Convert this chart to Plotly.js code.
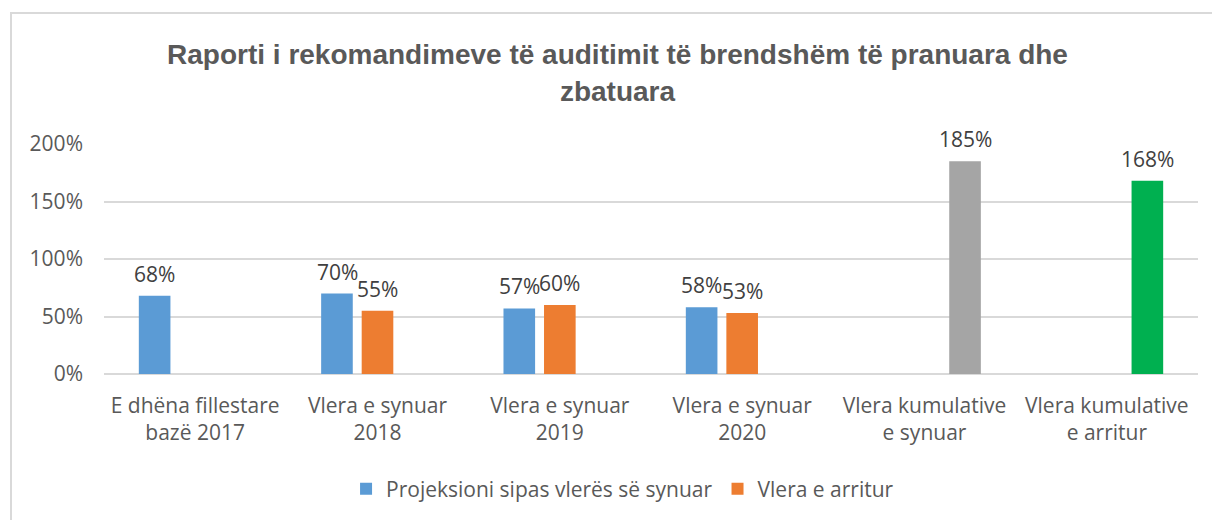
<!DOCTYPE html>
<html>
<head>
<meta charset="utf-8">
<script src="https://cdn.plot.ly/plotly-3.0.1.min.js"></script>
<style>
  html, body { margin: 0; padding: 0; background: #fff; }
  #wrap { position: relative; width: 1212px; height: 520px; overflow: hidden; }
  #chart { width: 1212px; height: 520px; }
  #frame { position: absolute; left: 10px; top: 12px; width: 1220px; height: 540px;
           border-top: 2px solid #d9d9d9; border-left: 2px solid #d9d9d9; pointer-events: none; }
</style>
</head>
<body>
<div id="wrap">
  <div id="chart"></div>
  <div id="frame"></div>
</div>
<script>
const categories = [
  "E dhëna fillestare<br>bazë 2017",
  "Vlera e synuar<br>2018",
  "Vlera e synuar<br>2019",
  "Vlera e synuar<br>2020",
  "Vlera kumulative<br>e synuar",
  "Vlera kumulative<br>e arritur"
];
const projeksioni = [0.68, 0.70, 0.57, 0.58, null, null];
const arritur = [null, 0.55, 0.60, 0.53, null, null];
const kumulative = [null, null, null, null, 1.85, 1.68];
const kumulativeColors = ["#A5A5A5", "#A5A5A5", "#A5A5A5", "#A5A5A5", "#A5A5A5", "#00B050"];
const yTickVals = [0, 0.5, 1, 1.5, 2];
const yTickText = ["0%", "50%", "100%", "150%", "200%"];

const FONT = "Open Sans, Liberation Sans, sans-serif";
const FS = 21;

const traces = [
  {
    type: "bar", name: "Projeksioni sipas vlerës së synuar",
    x: categories, y: projeksioni,
    marker: { color: "#5B9BD5" }, hoverinfo: "skip"
  },
  {
    type: "bar", name: "Vlera e arritur",
    x: categories, y: arritur,
    marker: { color: "#ED7D31" }, hoverinfo: "skip"
  },
  {
    type: "bar", name: "Vlera kumulative",
    x: categories, y: kumulative,
    marker: { color: kumulativeColors }, showlegend: false, hoverinfo: "skip"
  }
];

// data labels, one per bar, shifted to the bar's slot within its group
const slotShift = [-40.5, 0, 40.5];
const annotations = [];
[projeksioni, arritur, kumulative].forEach((series, s) => {
  series.forEach((v, i) => {
    if (v === null) return;
    annotations.push({
      x: categories[i], y: v, xref: "x", yref: "y",
      text: Math.round(v * 100) + "%",
      showarrow: false, xanchor: "center", yanchor: "bottom",
      xshift: slotShift[s], yshift: 6,
      font: { family: FONT, size: FS, color: "#404040" }
    });
  });
});

const layout = {
  width: 1212, height: 520,
  margin: { l: 104, r: 14, t: 144, b: 145 },
  paper_bgcolor: "#ffffff", plot_bgcolor: "#ffffff",
  barmode: "group", bargap: 0.333, bargroupgap: 0.22,
  title: {
    text: "<b>Raporti i rekomandimeve të auditimit të brendshëm të pranuara dhe<br>zbatuara</b>",
    font: { family: "Liberation Sans, Arial, sans-serif", size: 28, color: "#595959" },
    xref: "container", x: 0.5095, xanchor: "center",
    yref: "container", y: 0.876, yanchor: "middle"
  },
  xaxis: {
    type: "category",
    tickfont: { family: FONT, size: FS, color: "#595959" },
    showgrid: false, showline: false, zeroline: false,
    ticks: "", ticklabelstandoff: 17, fixedrange: true
  },
  yaxis: {
    range: [0, 2], tickvals: yTickVals, ticktext: yTickText,
    tickfont: { family: FONT, size: FS, color: "#595959" },
    showgrid: true, gridcolor: "#d9d9d9", gridwidth: 2,
    zeroline: true, zerolinecolor: "#d9d9d9", zerolinewidth: 2,
    showline: false, ticks: "", ticklabelstandoff: 20, fixedrange: true
  },
  legend: {
    orientation: "h", xref: "paper", x: 0.474, xanchor: "center",
    yref: "paper", y: -0.494, yanchor: "middle",
    font: { family: FONT, size: FS, color: "#595959" },
    itemclick: false, itemdoubleclick: false
  },
  annotations: annotations,
  showlegend: true
};

Plotly.newPlot("chart", traces, layout, { displayModeBar: false, staticPlot: true });
</script>
</body>
</html>
